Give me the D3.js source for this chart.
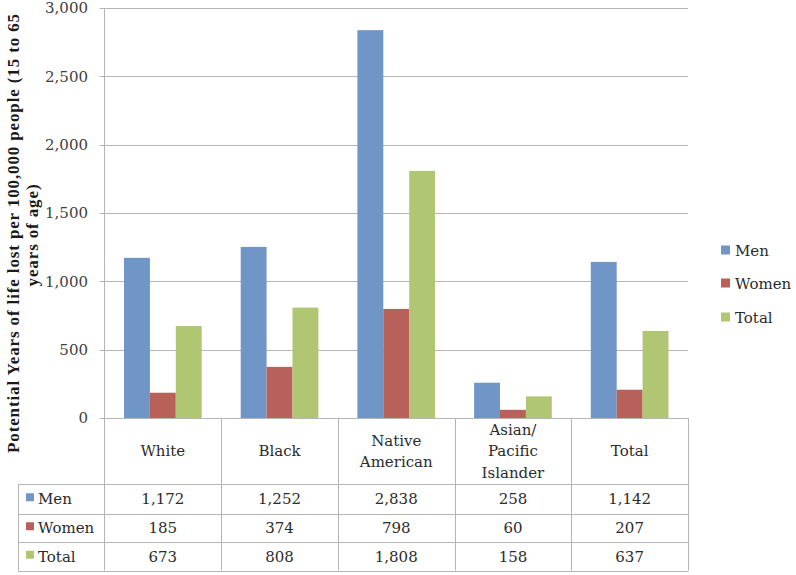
<!DOCTYPE html>
<html>
<head>
<meta charset="utf-8">
<script src="https://cdn.jsdelivr.net/npm/d3@7"></script>
<style>
html,body{margin:0;padding:0;background:#fff;}
svg{display:block;}
text{font-family:"DejaVu Serif",serif;fill:#2b2b2b;}
</style>
</head>
<body>
<svg id="chart" width="796" height="575"></svg>
<script>
const categories = ["White", "Black", "Native American", "Asian/ Pacific Islander", "Total"];
const categoryLines = [["White"], ["Black"], ["Native", "American"], ["Asian/", "Pacific", "Islander"], ["Total"]];
const series = ["Men", "Women", "Total"];
const men = [1172, 1252, 2838, 258, 1142];
const women = [185, 374, 798, 60, 207];
const total = [673, 808, 1808, 158, 637];
const yTicks = [0, 500, 1000, 1500, 2000, 2500, 3000];
const colors = ["#7096c8", "#b8615b", "#b1c673"];
const yTitle = ["Potential Years of life lost per 100,000 people (15 to 65", "years of age)"];

(function draw() {
const values = [men, women, total];
const svg = d3.select("#chart");
const fmt = d3.format(",");
const fs = "15px";

const plotLeft = 104.5, plotRight = 688, plotTop = 8, base = 418;
const rowLines = [484, 513.5, 542, 570.5];
const tableLeft = 18;
const gridColor = "#b5b5b5";

const x0 = d3.scaleBand().domain(categories).range([plotLeft, plotRight]).paddingInner(0).paddingOuter(0);
const x1 = d3.scaleBand().domain(series).range([0, x0.bandwidth()]).paddingInner(0).paddingOuter(0.753);
const y = d3.scaleLinear().domain([0, 3000]).range([base, plotTop]);

// gridlines
svg.append("g").selectAll("line").data(yTicks).join("line")
  .attr("x1", plotLeft - 5).attr("x2", plotRight)
  .attr("y1", d => Math.round(y(d)) + 0.5).attr("y2", d => Math.round(y(d)) + 0.5)
  .attr("stroke", gridColor).attr("stroke-width", 1);

// y tick labels
svg.append("g").selectAll("text").data(yTicks).join("text")
  .attr("x", 88).attr("y", d => y(d)).attr("dy", "0.35em")
  .attr("text-anchor", "end").style("font-size", fs).style("fill", "#404040")
  .text(d => fmt(d));

// bars
const groups = svg.append("g").selectAll("g").data(categories).join("g")
  .attr("transform", d => `translate(${x0(d)},0)`);
groups.selectAll("rect").data((d, i) => series.map((s, j) => ({s, j, v: values[j][i]}))).join("rect")
  .attr("x", d => x1(d.s)).attr("width", x1.bandwidth())
  .attr("y", d => y(d.v)).attr("height", d => y(0) - y(d.v))
  .attr("fill", d => colors[d.j]);

// table lines
const tl = svg.append("g").attr("stroke", gridColor).attr("stroke-width", 1);
tl.append("line").attr("x1", plotLeft).attr("x2", plotLeft).attr("y1", plotTop).attr("y2", rowLines[3]);
const bounds = categories.map(c => x0(c) + x0.bandwidth());
tl.selectAll(".col").data(bounds).join("line").attr("class", "col")
  .attr("x1", d => Math.round(d) + 0.5).attr("x2", d => Math.round(d) + 0.5)
  .attr("y1", base).attr("y2", rowLines[3]);
tl.append("line").attr("x1", tableLeft + 0.5).attr("x2", tableLeft + 0.5).attr("y1", rowLines[0]).attr("y2", rowLines[3]);
tl.selectAll(".row").data(rowLines).join("line").attr("class", "row")
  .attr("x1", tableLeft).attr("x2", plotRight + 0.5)
  .attr("y1", d => Math.round(d) + 0.5).attr("y2", d => Math.round(d) + 0.5);

// header labels
const headerMid = (base + rowLines[0]) / 2;
const lh = 21.5;
svg.append("g").selectAll("text").data(categories).join("text")
  .attr("text-anchor", "middle").style("font-size", fs)
  .each(function(d, i) {
    const lines = categoryLines[i];
    const t = d3.select(this);
    lines.forEach((ln, k) => {
      t.append("tspan").attr("x", x0(d) + x0.bandwidth() / 2)
        .attr("y", headerMid + (k - (lines.length - 1) / 2) * lh).attr("dy", "0.35em").text(ln);
    });
  });

// table rows
series.forEach((s, j) => {
  const mid = (rowLines[j] + rowLines[j + 1]) / 2;
  svg.append("rect").attr("x", 26).attr("y", mid - 5.5).attr("width", 8).attr("height", 8).attr("fill", colors[j]);
  svg.append("text").attr("x", 38).attr("y", mid).attr("dy", "0.35em").style("font-size", fs).text(s);
  svg.append("g").selectAll("text").data(categories).join("text")
    .attr("x", d => x0(d) + x0.bandwidth() / 2).attr("y", mid).attr("dy", "0.35em")
    .attr("text-anchor", "middle").style("font-size", fs)
    .text((d, i) => fmt(values[j][i]));
});

// legend
const legendY = [251, 284, 318];
series.forEach((s, j) => {
  svg.append("rect").attr("x", 721).attr("y", legendY[j] - 5.5).attr("width", 9).attr("height", 9).attr("fill", colors[j]);
  svg.append("text").attr("x", 735).attr("y", legendY[j]).attr("dy", "0.35em").style("font-size", fs).text(s);
});

// y title: 17px bold serif, letter-spaced so the first line spans ~439px
const titleMid = 233;
const titleSize = 17;
const tt = svg.append("g").attr("transform", `translate(0,${titleMid}) rotate(-90)`);
const t1 = tt.append("text").attr("x", 0).attr("y", 13).attr("dy", "0.35em").attr("text-anchor", "middle")
  .style("font-family", "'Liberation Serif', serif")
  .style("font-size", titleSize + "px").style("font-weight", "bold").style("fill", "#1a1a1a").text(yTitle[0]);
const natural = t1.node().getComputedTextLength();
const spacing = Math.max(0, (439 - natural) / (yTitle[0].length - 1));
t1.style("letter-spacing", spacing + "px");
tt.append("text").attr("x", -2).attr("y", 32.5).attr("dy", "0.35em").attr("text-anchor", "middle")
  .style("font-family", "'Liberation Serif', serif").style("letter-spacing", spacing + "px")
  .style("font-size", titleSize + "px").style("font-weight", "bold").style("fill", "#1a1a1a").text(yTitle[1]);
})();
</script>
</body>
</html>
